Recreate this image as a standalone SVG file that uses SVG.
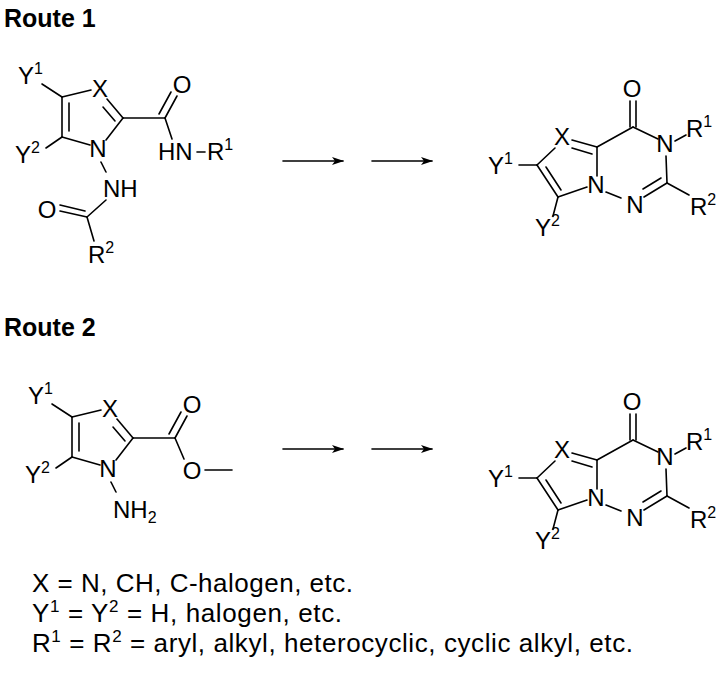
<svg xmlns="http://www.w3.org/2000/svg" width="723" height="679" viewBox="0 0 723 679">
<style>
line{stroke:#000;stroke-width:1.6;stroke-linecap:round}
text{font-family:"Liberation Sans",Arial,sans-serif;font-size:24px;fill:#000}
.c{text-anchor:middle}
.b{font-weight:bold;font-size:25px}
.s{font-size:16px}
.l{font-size:26px}
.ls{font-size:17px}
</style>
<defs>
<marker id="ah" markerWidth="12" markerHeight="8" refX="11" refY="4" orient="auto" markerUnits="userSpaceOnUse"><path d="M0,0 L12,4 L0,8 L3,4 Z" fill="#000"/></marker>
<g id="prod">
<line x1="630" y1="101" x2="630" y2="127"/><line x1="636" y1="101" x2="636" y2="127"/>
<line x1="633" y1="127" x2="658" y2="139"/>
<line x1="675" y1="141" x2="686" y2="135"/>
<line x1="666" y1="156" x2="667" y2="183"/>
<line x1="667" y1="183" x2="644" y2="197"/><line x1="661" y1="178" x2="643" y2="189"/>
<line x1="667" y1="183" x2="689" y2="195"/>
<line x1="606" y1="192" x2="621" y2="198"/>
<line x1="597" y1="147" x2="633" y2="127"/>
<line x1="597" y1="147" x2="597" y2="176"/>
<line x1="597" y1="147" x2="572" y2="140"/><line x1="592" y1="154" x2="572" y2="148"/>
<line x1="555" y1="148" x2="537" y2="165"/>
<line x1="537" y1="165" x2="558" y2="197"/><line x1="546" y1="167" x2="561" y2="190"/>
<line x1="558" y1="197" x2="587" y2="187"/>
<line x1="519" y1="165" x2="537" y2="165"/>
<line x1="558" y1="197" x2="553" y2="216"/>
<text x="632" y="97" class="c">O</text>
<text x="665" y="152" class="c">N</text>
<text x="686" y="137">R<tspan class="s" dy="-10">1</tspan></text>
<text x="635" y="213" class="c">N</text>
<text x="596" y="193" class="c">N</text>
<text x="690" y="215">R<tspan class="s" dy="-10">2</tspan></text>
<text x="562" y="145" class="c">X</text>
<text x="488" y="174">Y<tspan class="s" dy="-10">1</tspan></text>
<text x="535" y="236">Y<tspan class="s" dy="-10">2</tspan></text>
</g>
<g id="ring">
<line x1="62" y1="97" x2="91" y2="90"/>
<line x1="107" y1="99" x2="123" y2="118"/><line x1="103" y1="107" x2="115" y2="121"/>
<line x1="123" y1="118" x2="106" y2="140"/>
<line x1="90" y1="145" x2="62" y2="137"/>
<line x1="62" y1="137" x2="62" y2="97"/><line x1="69" y1="131" x2="69" y2="103"/>
<line x1="42" y1="84" x2="62" y2="97"/>
<line x1="46" y1="148" x2="62" y2="137"/>
<line x1="123" y1="118" x2="165" y2="118"/>
<text x="18" y="84">Y<tspan class="s" dy="-10">1</tspan></text>
<text x="15" y="163">Y<tspan class="s" dy="-10">2</tspan></text>
<text x="100" y="97" class="c">X</text>
<text x="98" y="157" class="c">N</text>
</g>
</defs>
<text x="4" y="27" class="b">Route 1</text>
<text x="4" y="336" class="b">Route 2</text>
<g id="connectors">
<line x1="283" y1="161" x2="343" y2="161" marker-end="url(#ah)"/>
<line x1="372" y1="161" x2="432" y2="161" marker-end="url(#ah)"/>
<line x1="283" y1="449" x2="343" y2="449" marker-end="url(#ah)"/>
<line x1="372" y1="449" x2="432" y2="449" marker-end="url(#ah)"/>
</g>
<g id="route1-start">
<use href="#ring"/>
<line x1="165" y1="118" x2="177" y2="96"/><line x1="159" y1="114" x2="171" y2="92"/>
<line x1="165" y1="118" x2="172" y2="139"/>
<text x="182" y="93" class="c">O</text>
<text x="158" y="160">HN</text>
<line x1="197" y1="152" x2="205" y2="152"/>
<text x="207" y="160">R<tspan class="s" dy="-10">1</tspan></text>
<line x1="101" y1="162" x2="106" y2="172"/>
<text x="103" y="197">NH</text>
<line x1="106" y1="200" x2="87" y2="217"/>
<line x1="87" y1="217" x2="60" y2="211"/><line x1="85" y1="211" x2="60" y2="205"/>
<line x1="87" y1="217" x2="94" y2="241"/>
<text x="88" y="263">R<tspan class="s" dy="-10">2</tspan></text>
<text x="47" y="218" class="c">O</text>
</g>
<g id="route1-product"><use href="#prod"/></g>
<g id="route2-start">
<use href="#ring" transform="translate(10,320)"/>
<line x1="175" y1="438" x2="187" y2="416"/><line x1="169" y1="434" x2="181" y2="412"/>
<line x1="175" y1="438" x2="184" y2="459"/>
<text x="192" y="413" class="c">O</text>
<text x="192" y="479" class="c">O</text>
<line x1="205" y1="470" x2="232" y2="470"/>
<line x1="111" y1="482" x2="116" y2="492"/>
<text x="113" y="518">NH<tspan class="s" dy="5">2</tspan></text>
</g>
<g id="route2-product"><use href="#prod" transform="translate(0,313)"/></g>
<g id="legend">
<text x="32" y="592" class="l" textLength="321">X = N, CH, C-halogen, etc.</text>
<text x="32" y="622" class="l" textLength="310">Y<tspan class="ls" dy="-10">1</tspan><tspan dy="10"> = Y</tspan><tspan class="ls" dy="-10">2</tspan><tspan dy="10"> = H, halogen, etc.</tspan></text>
<text x="32" y="652" class="l" textLength="601">R<tspan class="ls" dy="-10">1</tspan><tspan dy="10"> = R</tspan><tspan class="ls" dy="-10">2</tspan><tspan dy="10"> = aryl, alkyl, heterocyclic, cyclic alkyl, etc.</tspan></text>
</g>
</svg>
